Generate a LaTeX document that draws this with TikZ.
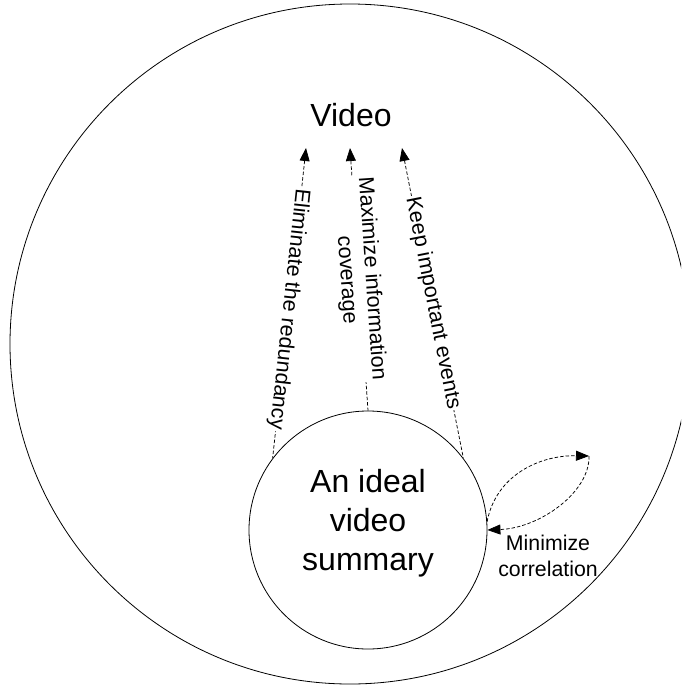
\documentclass[tikz,border=0pt]{standalone}
\usepackage{fontspec}
\setmainfont{Liberation Sans}
\usetikzlibrary{arrows.meta}
\begin{document}
\begin{tikzpicture}[x=1pt,y=-1pt,
  ring/.style={circle, draw, line width=0.8pt, inner sep=0pt},
  conn/.style={line width=0.75pt, dash pattern=on 3.5pt off 2pt},
  headed/.style={-{Triangle[length=13pt,width=10pt]}},
  tailed/.style={{Triangle[length=13pt,width=10pt]}-},
  lbl/.style={font=\fontsize{21.5}{25}\selectfont, fill=white, inner sep=1.5pt,
              sloped, allow upside down}]
  % page frame
  \useasboundingbox (0,0) rectangle (681,686);
  \clip (0,0) rectangle (681,686);
  \fill[white] (0,0) rectangle (681,686);

  % the whole video and the summary inside it
  \node[ring, minimum size=680pt] (scene) at (350,344) {};
  \node[font=\fontsize{32}{38}\selectfont, anchor=base] (video) at (351,126) {Video};
  \node[ring, minimum size=238pt] (sum) at (368,530) {};
  \node[font=\fontsize{32}{39}\selectfont, align=center] (sumtext) at (368,523)
    {An ideal\\video\\summary};

  % arrow targets under the "Video" title
  \coordinate (tl) at (306,148);
  \coordinate (tm) at (350,148);
  \coordinate (tr) at (402,148);
  \coordinate (rc) at (589,456);

  % objectives pointing at the video
  \draw[conn, tailed] (tl) -- node[lbl, pos=0.52] {Eliminate the redundancy} (sum.143.6);
  \draw[conn, tailed] (tm) -- node[lbl, pos=0.5, align=center]
    {Maximize information\\coverage} (sum.90);
  \draw[conn, tailed] (tr) -- node[lbl, pos=0.5] {Keep important events} (sum.37);

  % self-loop: minimize correlation
  \draw[conn, headed] (sum.4) .. controls (496,475) and (540,455) .. (rc);
  \draw[conn, headed] (rc) .. controls (590,492) and (540,528) .. (sum.east);
  \node[font=\fontsize{21.3}{26}\selectfont, align=center] (mc) at (548,556)
    {Minimize\\correlation};
\end{tikzpicture}
\end{document}
